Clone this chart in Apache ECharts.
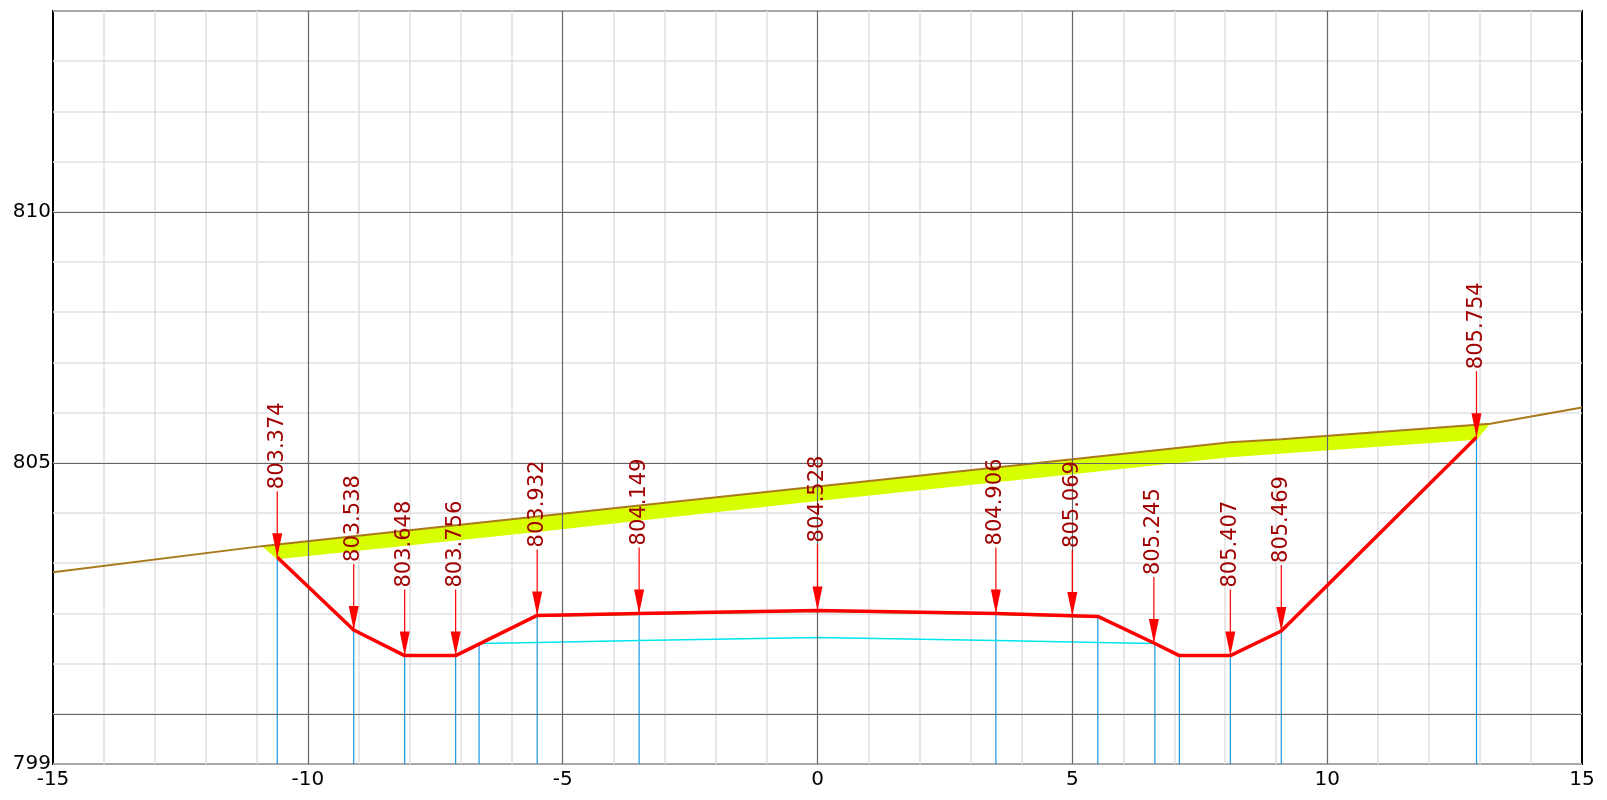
<!DOCTYPE html>
<html>
<head>
<meta charset="utf-8">
<script src="https://cdn.jsdelivr.net/npm/echarts@6.0.0/dist/echarts.min.js"></script>
<style>
  html, body { margin: 0; padding: 0; background: #fff; }
  #chart { width: 1607px; height: 800px; }
</style>
</head>
<body>
<div id="chart"></div>
<script>
// 地面线
const groundX = [-15, -10.9, -10.6, -9.1, -8.1, -7.1, -5.5, -3.5, 0, 3.5, 5, 6.6, 8.1, 9.1, 13.2, 15]
const groundY = [802.82, 803.34, 803.374, 803.538, 803.648, 803.756, 803.932, 804.149, 804.528, 804.906, 805.069, 805.245, 805.407, 805.469, 805.78, 806.1]

// 黄色清表层下边界
const stripX = [-10.6, -5.5, 0, 5, 8.1, 12.93]
const stripY = [803.08, 803.62, 804.24, 804.77, 805.11, 805.46]

// 设计线
const designX = [-10.6, -9.1, -8.1, -7.1, -5.5, -3.5, 0, 3.5, 5.5, 6.6, 7.1, 8.1, 9.1, 12.93]
const designY = [803.12, 801.67, 801.16, 801.16, 801.96, 802.0, 802.06, 802.0, 801.94, 801.41, 801.16, 801.16, 801.65, 805.51]

// 路面底线
const baseX = [-6.64, -5.5, -3.5, 0, 3.5, 5.5, 6.62]
const baseY = [801.4, 801.42, 801.46, 801.52, 801.46, 801.42, 801.4]

// 竖线
const vertX = [-10.6, -9.1, -8.1, -7.1, -6.64, -5.5, -3.5, 3.5, 5.5, 6.62, 7.1, 8.1, 9.1, 12.93]
const vertTop = [803.12, 801.67, 801.16, 801.16, 801.4, 801.96, 802.0, 802.0, 801.94, 801.4, 801.16, 801.16, 801.65, 805.51]

// 标注
const labelX = [-10.6, -9.1, -8.1, -7.1, -5.5, -3.5, 0, 3.5, 5, 6.6, 8.1, 9.1, 12.93]
const labelY = [803.12, 801.67, 801.16, 801.16, 801.96, 802.0, 802.06, 802.0, 801.95, 801.41, 801.16, 801.65, 805.51]
const labelText = ['803.374', '803.538', '803.648', '803.756', '803.932', '804.149', '804.528', '804.906', '805.069', '805.245', '805.407', '805.469', '805.754']

const majorX = [-10, -5, 0, 5, 10]
const majorY = [800, 805, 810]

const zip = (xs, ys) => xs.map((x, i) => [x, ys[i]])

const chart = echarts.init(document.getElementById('chart'))

const bandPoly = zip(groundX.slice(1, 15), groundY.slice(1, 15)).concat(zip(stripX, stripY).reverse())

chart.setOption({
  animation: false,
  textStyle: { fontFamily: 'DejaVu Sans' },
  grid: { left: 53, right: 25, top: 11, bottom: 36, show: true, borderColor: '#000', borderWidth: 2 },
  xAxis: {
    type: 'value', min: -15, max: 15, interval: 5,
    axisLine: { show: false },
    axisTick: { show: false },
    axisLabel: { color: '#000', fontSize: 20, margin: 6 },
    splitLine: { show: false },
    minorTick: { show: false, splitNumber: 5 },
    minorSplitLine: { show: true, lineStyle: { color: '#e0e0e0', width: 1.5 } }
  },
  yAxis: {
    type: 'value', min: 799, max: 814, interval: 1,
    axisLine: { show: false },
    axisTick: { show: false },
    axisLabel: {
      color: '#000', fontSize: 20, margin: 2,
      formatter: v => ([799, 805, 810].includes(v) ? String(v) : '')
    },
    splitLine: { show: true, lineStyle: { color: '#e0e0e0', width: 1.5 } }
  },
  series: [
    {
      type: 'line', data: [], silent: true,
      markLine: {
        silent: true, symbol: 'none', label: { show: false },
        lineStyle: { color: '#666', width: 1.2, type: 'solid' },
        data: majorX.map(x => ({ xAxis: x })).concat(majorY.map(y => ({ yAxis: y })))
      }
    },
    {
      type: 'custom', silent: true, z: 3,
      data: [0],
      renderItem: (params, api) => ({
        type: 'polygon',
        shape: { points: bandPoly.map(p => api.coord(p)) },
        style: { fill: '#d8ff00' }
      })
    },
    {
      type: 'line', data: zip(groundX, groundY), symbol: 'none', z: 4,
      lineStyle: { color: '#a87a1c', width: 2 }
    },
    {
      type: 'custom', silent: true, z: 2,
      data: zip(vertX, vertTop),
      renderItem: (params, api) => {
        const a = api.coord([api.value(0), api.value(1)])
        const b = api.coord([api.value(0), 799])
        return { type: 'line', shape: { x1: a[0], y1: a[1], x2: b[0], y2: b[1] }, style: { stroke: '#1a96de', lineWidth: 1.2 } }
      }
    },
    {
      type: 'line', data: zip(baseX, baseY), symbol: 'none', z: 3,
      lineStyle: { color: '#00e5ee', width: 1.5 }
    },
    {
      type: 'line', data: zip(designX.slice(4, 9), designY.slice(4, 9).map(v => v - 0.015)), symbol: 'none', z: 4,
      lineStyle: { color: '#22cc22', width: 1.5 }
    },
    {
      type: 'line', data: zip(designX, designY), symbol: 'none', z: 5,
      lineStyle: { color: '#ff0000', width: 3.5 }
    },
    {
      type: 'custom', silent: true, z: 6,
      data: labelX.map((x, i) => [x, labelY[i], i]),
      renderItem: (params, api) => {
        const p = api.coord([api.value(0), api.value(1)])
        const top = p[1] - 66
        return {
          type: 'group',
          children: [
            { type: 'line', shape: { x1: p[0], y1: top, x2: p[0], y2: p[1] }, style: { stroke: '#ff0000', lineWidth: 1.2 } },
            { type: 'polygon', shape: { points: [[p[0] - 5, p[1] - 24], [p[0] + 5, p[1] - 24], [p[0], p[1]]] }, style: { fill: '#ff0000' } },
            {
              type: 'text', x: p[0], y: top - 2, rotation: Math.PI / 2,
              style: { text: labelText[api.value(2)], fill: '#a00000', fontSize: 21, fontFamily: 'DejaVu Sans', align: 'left', verticalAlign: 'middle' }
            }
          ]
        }
      }
    }
  ]
})
</script>
</body>
</html>
